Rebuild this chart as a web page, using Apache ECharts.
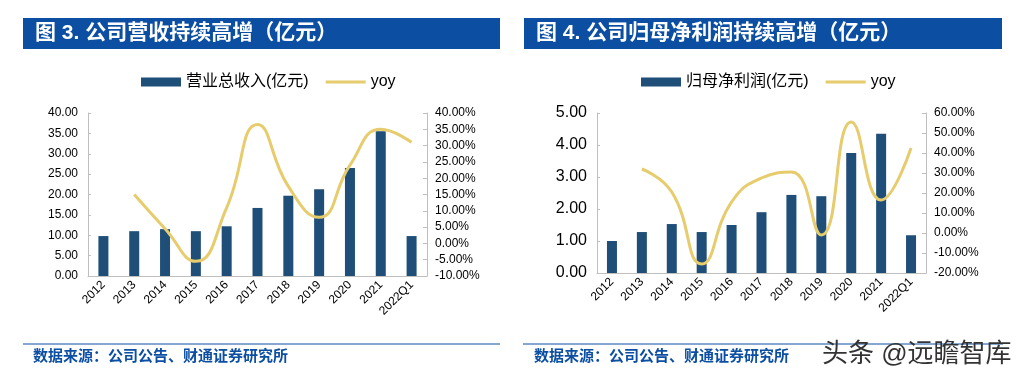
<!DOCTYPE html>
<html><head><meta charset="utf-8">
<script src="https://cdn.jsdelivr.net/npm/echarts@6/dist/echarts.min.js"></script>
<style>html,body{margin:0;padding:0;background:#fff}#c{width:1023px;height:379px}</style>
</head><body><div id="c"></div>
<script>
const categories = ['2012','2013','2014','2015','2016','2017','2018','2019','2020','2021','2022Q1'];
const revenue = [9.8, 11.0, 11.5, 11.0, 12.2, 16.7, 19.7, 21.3, 26.5, 35.5, 9.8];
const revenueYoy = [null, 15.0, 4.5, -5.5, 11.0, 36.5, 17.5, 8.0, 24.0, 35.0, 31.0];
const profit = [1.00, 1.28, 1.53, 1.28, 1.50, 1.90, 2.44, 2.40, 3.75, 4.35, 1.18];
const profitYoy = [null, 32.0, 20.5, -15.5, 15.5, 27.5, 30.5, -1.0, 55.5, 16.5, 42.5];
const revenueName = '营业总收入(亿元)';
const profitName = '归母净利润(亿元)';
const yoyName = 'yoy';
const title1 = '图 3. 公司营收持续高增（亿元）';
const title2 = '图 4. 公司归母净利润持续高增（亿元）';
const sourceText = '数据来源：公司公告、财通证券研究所';
const watermark = '头条 @远瞻智库';

const FONT = '"Liberation Sans", Arial, "Noto Sans CJK SC", sans-serif';
const BAR = '#1f4e79';
const LINE = '#e6cc6c';
const BLUE = '#0b4ea2';
const AX = '#bfbfbf';
const LINE_ICON = 'path://M0,0H42V3H0Z';

const chart = echarts.init(document.getElementById('c'));
function xAxis(gi){
  return {type:'category', gridIndex:gi, data:categories,
    axisLine:{lineStyle:{color:AX}}, axisTick:{show:false},
    axisLabel:{rotate:45, fontSize:12, color:'#000', fontFamily:FONT, margin:7, interval:0}};
}
function yLeft(gi,max,interval,fs){
  return {type:'value', gridIndex:gi, min:0, max:max, interval:interval, splitLine:{show:false},
    axisLine:{show:true, lineStyle:{color:AX}}, axisTick:{show:true, inside:true, length:3, lineStyle:{color:AX}},
    axisLabel:{fontSize:fs, color:'#000', fontFamily:FONT, formatter:v=>v.toFixed(2), margin:10}};
}
function yRight(gi,min,max,interval){
  return {type:'value', gridIndex:gi, position:'right', min:min, max:max, interval:interval, splitLine:{show:false},
    axisLine:{show:true, lineStyle:{color:AX}}, axisTick:{show:true, inside:true, length:4, lineStyle:{color:AX}},
    axisLabel:{fontSize:12, color:'#000', fontFamily:FONT, formatter:v=>v.toFixed(2)+'%', margin:8}};
}
const legendCommon = {top:69, itemWidth:40, itemHeight:9, itemGap:17,
  textStyle:{fontSize:16, color:'#000', fontFamily:FONT}};
chart.setOption({
  animation:false,
  textStyle:{fontFamily:FONT},
  grid:[
    {left:88, right:596, top:113, bottom:103},
    {left:597, right:97, top:113, bottom:106}
  ],
  legend:[
    Object.assign({left:136, data:[{name:revenueName, icon:'rect'}, {name:yoyName, icon:LINE_ICON}]}, legendCommon),
    Object.assign({left:636, data:[{name:profitName, icon:'rect'}, {name:yoyName, icon:LINE_ICON}]}, legendCommon)
  ],
  xAxis:[xAxis(0), xAxis(1)],
  yAxis:[yLeft(0,40,5,12), yRight(0,-10,40,5), yLeft(1,5,1,16), yRight(1,-20,60,10)],
  series:[
    {name:revenueName, type:'bar', xAxisIndex:0, yAxisIndex:0, data:revenue, barWidth:10, itemStyle:{color:BAR}},
    {name:yoyName, type:'line', xAxisIndex:0, yAxisIndex:1, data:revenueYoy, smooth:0.5, symbol:'none',
      lineStyle:{color:LINE, width:3}, itemStyle:{color:LINE}},
    {name:profitName, type:'bar', xAxisIndex:1, yAxisIndex:2, data:profit, barWidth:10, itemStyle:{color:BAR}},
    {name:yoyName, type:'line', xAxisIndex:1, yAxisIndex:3, data:profitYoy, smooth:0.5, symbol:'none',
      lineStyle:{color:LINE, width:3}, itemStyle:{color:LINE}}
  ],
  graphic:[
    {type:'rect', shape:{x:23, y:18, width:477, height:31}, style:{fill:BLUE}},
    {type:'text', x:35, y:33.5, style:{text:title1, fill:'#fff', font:'bold 21px '+FONT, textVerticalAlign:'middle'}},
    {type:'rect', shape:{x:524, y:18, width:478, height:31}, style:{fill:BLUE}},
    {type:'text', x:536, y:33.5, style:{text:title2, fill:'#fff', font:'bold 21px '+FONT, textVerticalAlign:'middle'}},
    {type:'line', shape:{x1:23, y1:344, x2:500, y2:344}, style:{stroke:BLUE, lineWidth:1}},
    {type:'line', shape:{x1:523, y1:344, x2:1003, y2:344}, style:{stroke:BLUE, lineWidth:1}},
    {type:'text', x:33, y:357, style:{text:sourceText, fill:BLUE, font:'bold 15px '+FONT, textVerticalAlign:'middle'}},
    {type:'text', x:534, y:357, style:{text:sourceText, fill:BLUE, font:'bold 15px '+FONT, textVerticalAlign:'middle'}},
    {type:'text', x:822, y:355, style:{text:watermark, fill:'#333', font:'26px '+FONT, textVerticalAlign:'middle'}}
  ]
});
</script></body></html>
